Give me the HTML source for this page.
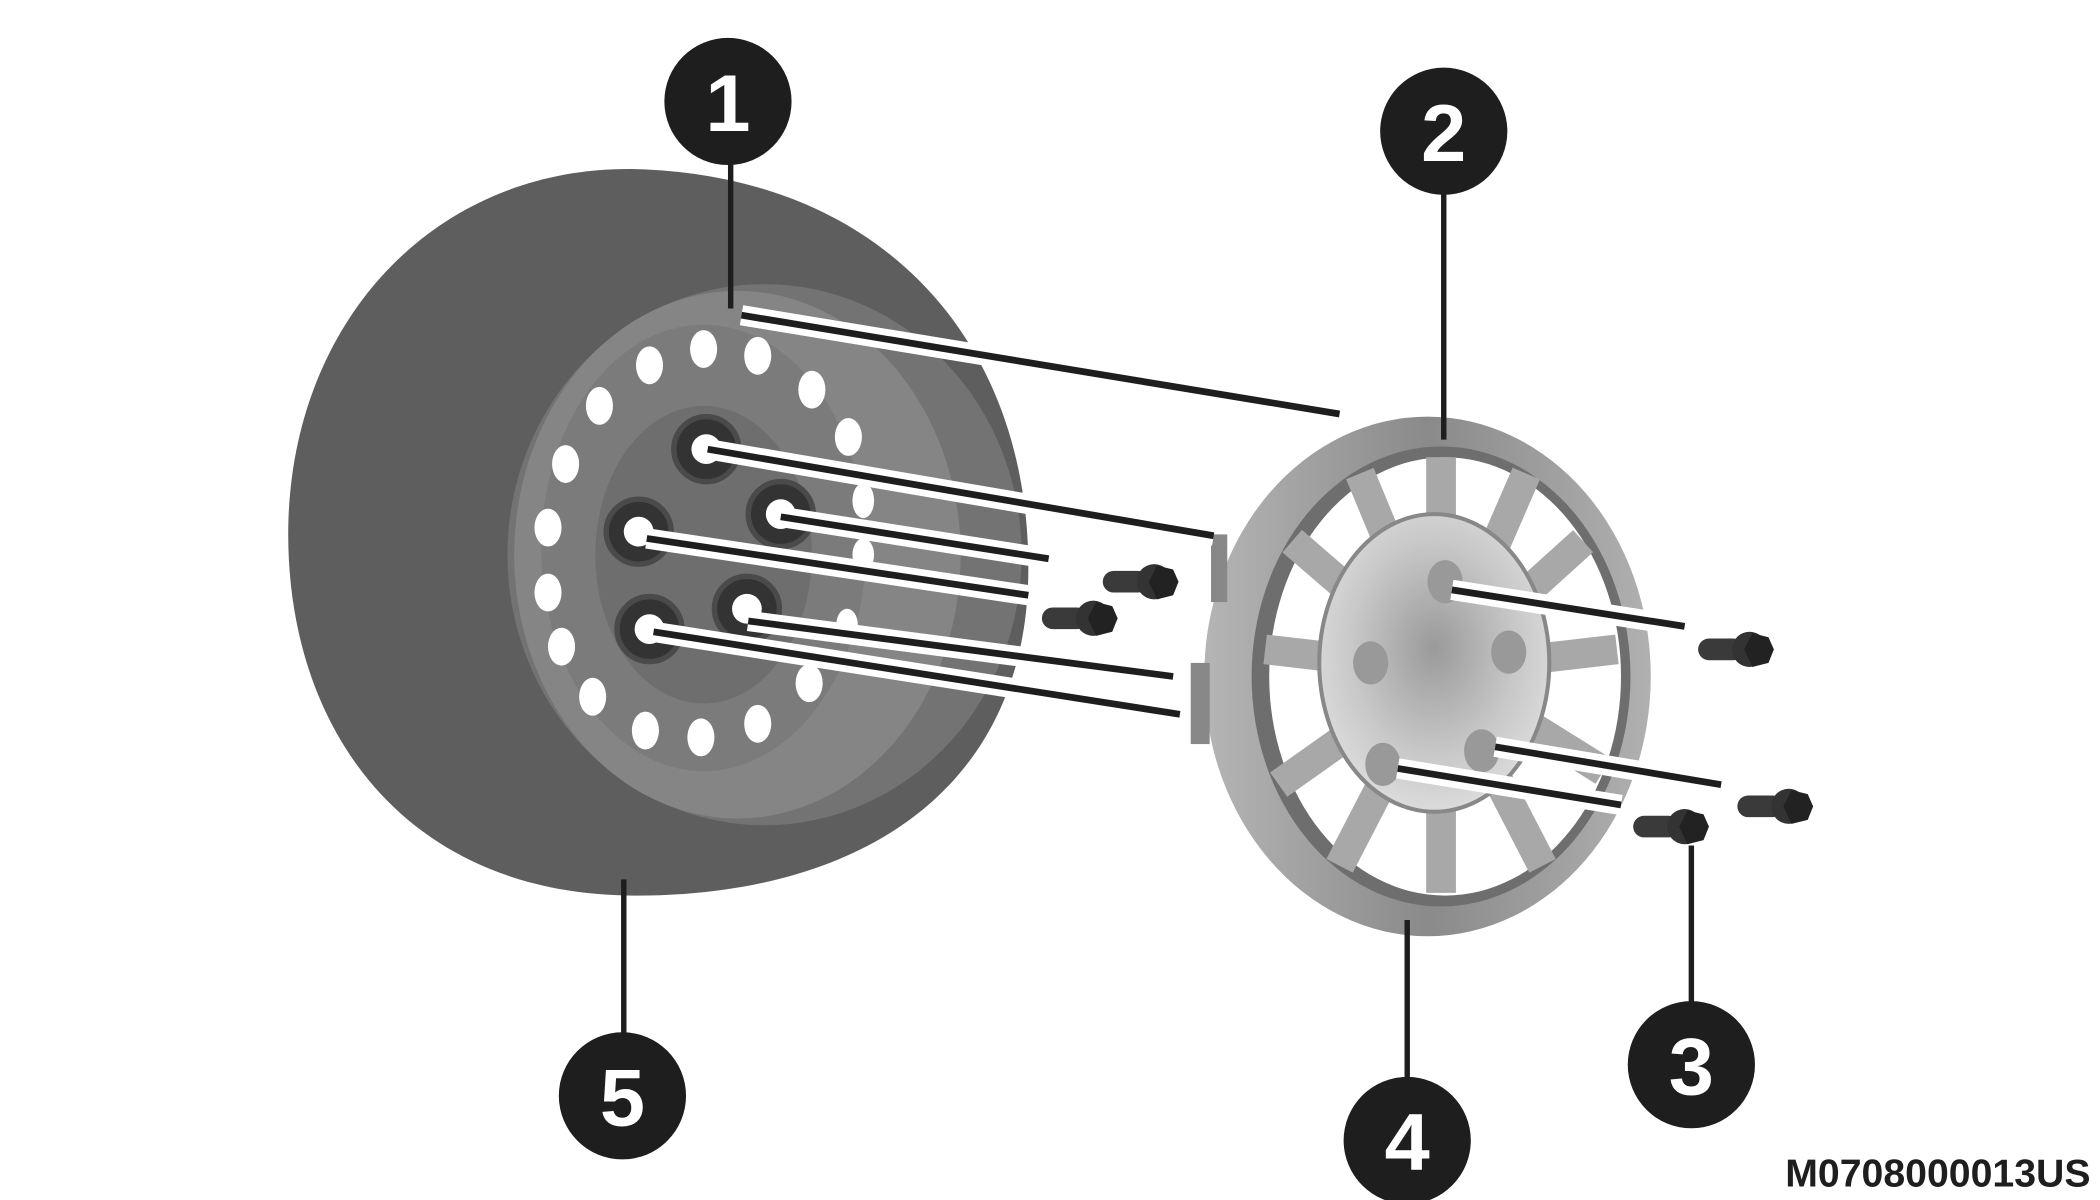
<!DOCTYPE html>
<html><head><meta charset="utf-8"><style>html,body{margin:0;padding:0;background:#fff}svg{display:block}</style></head>
<body>
<svg width="2100" height="1200" viewBox="0 0 1552 887" preserveAspectRatio="none" xmlns="http://www.w3.org/2000/svg">
<defs>
<radialGradient id="hub" cx="0.5" cy="0.45" r="0.6"><stop offset="0" stop-color="#9a9a9a"/><stop offset="0.6" stop-color="#c8c8c8"/><stop offset="1" stop-color="#e0e0e0"/></radialGradient>
<linearGradient id="ring" x1="0" x2="1"><stop offset="0" stop-color="#b5b5b5"/><stop offset="0.5" stop-color="#8a8a8a"/><stop offset="1" stop-color="#b0b0b0"/></linearGradient>
<g id="bolt"><rect x="-38" y="-8" width="34" height="16" rx="8" fill="#3a3a3a"/><circle cx="0" cy="0" r="13" fill="#333"/><polygon points="2,-12 14,-9 18,0 14,10 2,13 -4,0" fill="#222"/></g>
</defs>
<!-- tire -->
<path d="M470,125 C650,130 760,250 760,420 C760,580 640,662 470,662 C300,662 213,540 213,395 C213,240 320,122 470,125Z" fill="#5e5e5e"/>
<ellipse cx="565" cy="410" rx="190" ry="200" fill="#737373"/>
<ellipse cx="545" cy="410" rx="165" ry="195" fill="#858585"/>
<ellipse cx="520" cy="405" rx="120" ry="165" fill="#7b7b7b"/>
<ellipse cx="520" cy="410" rx="80" ry="110" fill="#6e6e6e"/>
<g fill="#fff">
<ellipse cx="520" cy="258" rx="10" ry="14"/><ellipse cx="560" cy="263" rx="10" ry="14"/><ellipse cx="480" cy="270" rx="10" ry="14"/>
<ellipse cx="600" cy="288" rx="10" ry="14"/><ellipse cx="443" cy="300" rx="10" ry="14"/><ellipse cx="627" cy="323" rx="10" ry="14"/>
<ellipse cx="418" cy="343" rx="10" ry="14"/><ellipse cx="638" cy="370" rx="8" ry="13"/><ellipse cx="405" cy="390" rx="10" ry="14"/>
<ellipse cx="405" cy="438" rx="10" ry="14"/><ellipse cx="638" cy="410" rx="8" ry="12"/><ellipse cx="415" cy="478" rx="10" ry="14"/>
<ellipse cx="626" cy="462" rx="8" ry="12"/><ellipse cx="438" cy="515" rx="10" ry="14"/><ellipse cx="598" cy="505" rx="10" ry="14"/>
<ellipse cx="477" cy="540" rx="10" ry="14"/><ellipse cx="518" cy="545" rx="10" ry="14"/><ellipse cx="560" cy="535" rx="10" ry="14"/>
</g>
<g fill="#333" stroke="#4a4a4a" stroke-width="4">
<circle cx="522" cy="332" r="24"/><circle cx="577" cy="380" r="24"/><circle cx="472" cy="393" r="24"/><circle cx="552" cy="450" r="24"/><circle cx="480" cy="465" r="24"/>
</g>
<g fill="#fff"><circle cx="522" cy="332" r="11"/><circle cx="577" cy="380" r="11"/><circle cx="472" cy="393" r="11"/><circle cx="552" cy="450" r="11"/><circle cx="480" cy="465" r="11"/></g>
<!-- hubcap -->
<ellipse cx="1055" cy="500" rx="165" ry="192" fill="url(#ring)"/>
<ellipse cx="1065" cy="500" rx="140" ry="170" fill="#6e6e6e"/>
<ellipse cx="1068" cy="500" rx="130" ry="162" fill="#fff"/>
<g stroke="#a8a8a8" stroke-width="22" stroke-linecap="butt">
<line x1="1065" y1="495" x2="1065" y2="338"/><line x1="1065" y1="495" x2="1128" y2="350"/><line x1="1065" y1="495" x2="1170" y2="400"/><line x1="1065" y1="495" x2="1195" y2="480"/>
<line x1="1065" y1="495" x2="1185" y2="570"/><line x1="1065" y1="495" x2="1140" y2="640"/><line x1="1065" y1="495" x2="1065" y2="660"/><line x1="1065" y1="495" x2="990" y2="640"/>
<line x1="1065" y1="495" x2="945" y2="580"/><line x1="1065" y1="495" x2="935" y2="480"/><line x1="1065" y1="495" x2="955" y2="400"/><line x1="1065" y1="495" x2="1005" y2="350"/>
</g>
<ellipse cx="1060" cy="490" rx="85" ry="110" fill="url(#hub)" stroke="#888" stroke-width="3"/>
<g fill="#999"><ellipse cx="1068" cy="430" rx="13" ry="16"/><ellipse cx="1115" cy="482" rx="13" ry="16"/><ellipse cx="1013" cy="490" rx="13" ry="16"/><ellipse cx="1022" cy="565" rx="13" ry="16"/><ellipse cx="1095" cy="555" rx="13" ry="16"/></g>
<rect x="880" y="490" width="14" height="60" fill="#888"/><rect x="895" y="395" width="12" height="50" fill="#888"/>
<g stroke="#fff" stroke-width="15" stroke-linecap="butt">
<line x1="548" y1="233" x2="990" y2="306"/><line x1="523" y1="332" x2="897" y2="396"/><line x1="577" y1="382" x2="775" y2="413"/>
<line x1="478" y1="398" x2="760" y2="440"/><line x1="553" y1="459" x2="867" y2="500"/><line x1="483" y1="467" x2="872" y2="528"/>
<line x1="1073" y1="436" x2="1245" y2="463"/><line x1="1105" y1="552" x2="1272" y2="580"/><line x1="1033" y1="568" x2="1198" y2="595"/>
</g>
<g stroke="#1e1e1e" stroke-width="5">
<line x1="548" y1="233" x2="990" y2="306"/><line x1="523" y1="332" x2="897" y2="396"/><line x1="577" y1="382" x2="775" y2="413"/>
<line x1="478" y1="398" x2="760" y2="440"/><line x1="553" y1="459" x2="867" y2="500"/><line x1="483" y1="467" x2="872" y2="528"/>
<line x1="1073" y1="436" x2="1245" y2="463"/><line x1="1105" y1="552" x2="1272" y2="580"/><line x1="1033" y1="568" x2="1198" y2="595"/>
</g>
<use href="#bolt" x="853" y="430"/><use href="#bolt" x="808" y="457"/><use href="#bolt" x="1293" y="480"/><use href="#bolt" x="1322" y="596"/><use href="#bolt" x="1245" y="611"/>
<g stroke="#1e1e1e" stroke-width="4">
<line x1="540" y1="100" x2="540" y2="228"/><line x1="1067" y1="120" x2="1067" y2="325"/><line x1="1250" y1="625" x2="1250" y2="760"/>
<line x1="1040" y1="680" x2="1040" y2="815"/><line x1="461" y1="650" x2="461" y2="785"/>
</g>
<g fill="#1e1e1e"><circle cx="538" cy="75" r="47"/><circle cx="1067" cy="97" r="47"/><circle cx="1250" cy="787" r="47"/><circle cx="1040" cy="843" r="47"/><circle cx="460" cy="810" r="47"/></g>
<g fill="#fff" font-family="Liberation Sans, sans-serif" font-weight="bold" font-size="60" text-anchor="middle">
<text x="538" y="97">1</text><text x="1067" y="119">2</text><text x="1250" y="809">3</text><text x="1040" y="865">4</text><text x="460" y="832">5</text>
</g>
<text x="1545" y="877" text-anchor="end" font-family="Liberation Sans, sans-serif" font-weight="bold" font-size="29" fill="#1e1e1e">M0708000013US</text>
</svg>
</body></html>
